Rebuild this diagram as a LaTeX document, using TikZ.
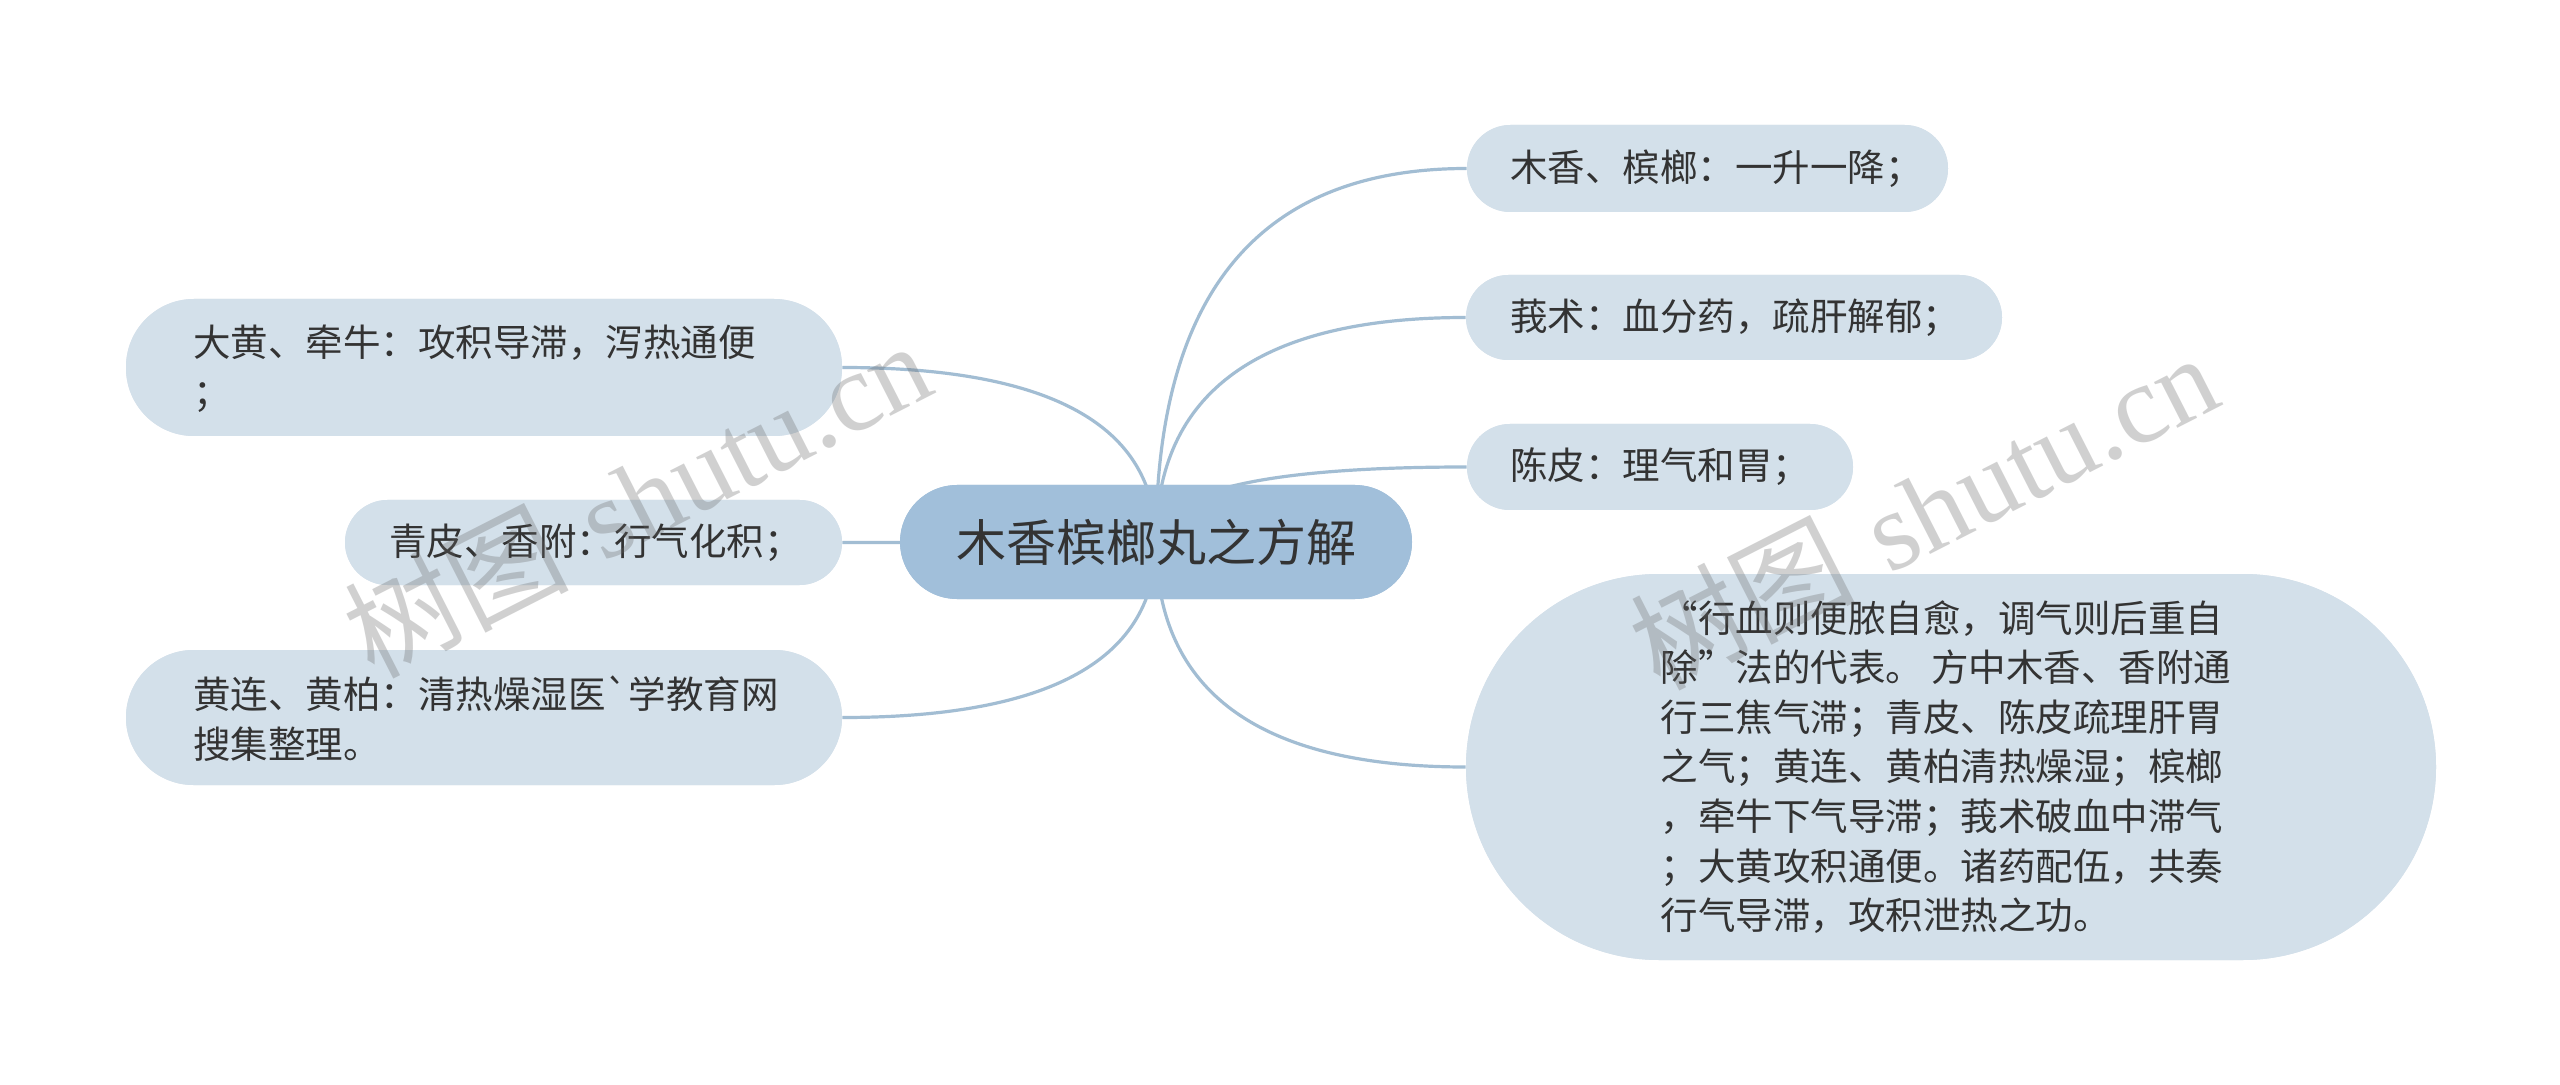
\documentclass[tikz,border=0pt]{standalone}
\usepackage{fontspec}
\newfontfamily\cjk{Noto Sans CJK SC}
\newfontfamily\wmserif{Liberation Serif}
\usetikzlibrary{calc}
\definecolor{leaffill}{HTML}{D3E0EA}
\definecolor{cenfill}{HTML}{A1BFDA}
\definecolor{linecol}{HTML}{A2BDD3}
\definecolor{txt}{HTML}{333333}
\tikzset{
  conn/.style={draw=linecol, line width=1.6pt},
  leafbox/.style={fill=leaffill, draw=none, inner sep=0pt},
  cenbox/.style={fill=cenfill, draw=none, inner sep=0pt},
  leaftxt/.style={inner sep=0pt, anchor=west, align=left, text=txt,
    font=\cjk\fontsize{18.75pt}{25pt}\selectfont},
  bigtxt/.style={inner sep=0pt, align=left, text=txt,
    font=\cjk\fontsize{18.75pt}{24.8pt}\selectfont},
  wm/.style={inner sep=0pt, text=black!60, opacity=0.3, rotate=27,
    font=\fontsize{56pt}{60pt}\selectfont}
}
\begin{document}
\begin{tikzpicture}[x=0.5pt,y=-0.5pt]
\useasboundingbox[fill=white] (0,0) rectangle (2560,1085);

% boxes (named)
\node[cenbox, minimum width=256pt, minimum height=57pt, rounded corners=28.5pt] (cen) at (1156,542) {};
\node[leafbox, minimum width=240.5pt, minimum height=43.5pt, rounded corners=21.75pt] (r1) at (1707.5,168.5) {};
\node[leafbox, minimum width=268pt, minimum height=42.5pt, rounded corners=21.25pt] (r2) at (1734,317.5) {};
\node[leafbox, minimum width=193pt, minimum height=43pt, rounded corners=21.5pt] (r3) at (1660,467) {};
\node[leafbox, minimum width=485pt, minimum height=193pt, rounded corners=96.5pt] (r4) at (1951,767) {};
\node[leafbox, minimum width=358pt, minimum height=68.5pt, rounded corners=34pt] (l1) at (484,367.5) {};
\node[leafbox, minimum width=248.5pt, minimum height=42.5pt, rounded corners=21.25pt] (l2) at (593.5,542.5) {};
\node[leafbox, minimum width=358pt, minimum height=67.5pt, rounded corners=33.75pt] (l3) at (484,717.5) {};

% control corners for the quadratic connectors
\foreach \n/\a in {r1/west,r2/west,r3/west,r4/west,l1/east,l3/east}{
  \coordinate (k\n) at (cen.center |- \n.\a);
}

\foreach \n/\a in {r1/west,r2/west,r3/west,r4/west,l1/east,l3/east}{
  \draw[conn] (cen.center) .. controls ($(cen.center)!2/3!(k\n)$) and ($(\n.\a)!2/3!(k\n)$) .. (\n.\a);
}
\draw[conn] (cen.center) -- (l2.east);

% redraw boxes above connectors
\node[cenbox, minimum width=256pt, minimum height=57pt, rounded corners=28.5pt] at (cen.center) {};
\node[leafbox, minimum width=240.5pt, minimum height=43.5pt, rounded corners=21.75pt] at (r1.center) {};
\node[leafbox, minimum width=268pt, minimum height=42.5pt, rounded corners=21.25pt] at (r2.center) {};
\node[leafbox, minimum width=193pt, minimum height=43pt, rounded corners=21.5pt] at (r3.center) {};
\node[leafbox, minimum width=485pt, minimum height=193pt, rounded corners=96.5pt] at (r4.center) {};
\node[leafbox, minimum width=358pt, minimum height=68.5pt, rounded corners=34pt] at (l1.center) {};
\node[leafbox, minimum width=248.5pt, minimum height=42.5pt, rounded corners=21.25pt] at (l2.center) {};
\node[leafbox, minimum width=358pt, minimum height=67.5pt, rounded corners=33.75pt] at (l3.center) {};

% texts
\node[inner sep=0pt, text=txt, font=\cjk\fontsize{25pt}{30pt}\selectfont] (tcen) at (cen.center) {木香槟榔丸之方解};
\node[leaftxt] (tr1) at (1510,168.5) {木香、槟榔：一升一降；};
\node[leaftxt] (tr2) at (1510,317.5) {莪术：血分药，疏肝解郁；};
\node[leaftxt] (tr3) at (1510,467) {陈皮：理气和胃；};
\node[bigtxt] (tr4) at (1946,767) {“行血则便脓自愈，调气则后重自\\除”法的代表。 方中木香、香附通\\行三焦气滞；青皮、陈皮疏理肝胃\\之气；黄连、黄柏清热燥湿；槟榔\\，牵牛下气导滞；莪术破血中滞气\\；大黄攻积通便。诸药配伍，共奏\\行气导滞，攻积泄热之功。};
\node[leaftxt] (tl1) at (193,369) {大黄、牵牛：攻积导滞，泻热通便\\；};
\node[leaftxt] (tl2) at (389,542.5) {青皮、香附：行气化积；};
\node[leaftxt] (tl3) at (193,719) {黄连、黄柏：清热燥湿医`学教育网\\搜集整理。};

% watermarks
\node[wm] (wm1) at (637,498) {{\cjk 树图} {\wmserif shutu.cn}};
\node[wm] (wm2) at (1923,510) {{\cjk 树图} {\wmserif shutu.cn}};
\end{tikzpicture}
\end{document}
